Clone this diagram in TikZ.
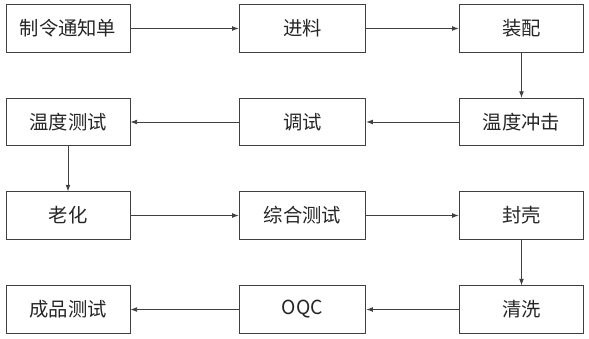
\documentclass[tikz,border=0pt]{standalone}
\usepackage{fontspec}
\newfontfamily\cjk{Noto Sans CJK SC}
\usetikzlibrary{arrows.meta}
\begin{document}
\begin{tikzpicture}[x=0.75pt,y=-0.75pt,
  box/.style={draw=black!75,line width=0.6pt,minimum width=93.5pt,minimum height=35.5pt,inner sep=0pt,font=\cjk\fontsize{14.5pt}{16pt}\selectfont,text=black!85},
  link/.style={draw=black!75,line width=0.6pt,-{Latex[length=5pt,width=3.6pt]}}]
\useasboundingbox (0,0) rectangle (589,339);
% columns centres 68, 302.5, 521.5 ; rows 28.5, 122, 215.5, 309.5
\node[box,minimum width=93pt] (a) at (68,28.5) {制令通知单};
\node[box,minimum width=95pt] (b) at (302.5,28.5) {进料};
\node[box] (c) at (521.5,28.5) {装配};
\node[box] (d) at (521.5,122) {温度冲击};
\node[box,minimum width=95pt] (e) at (302.5,122) {调试};
\node[box,minimum width=93pt] (f) at (68,122) {温度测试};
\node[box,minimum width=93pt] (g) at (68,215.5) {老化};
\node[box,minimum width=95pt] (h) at (302.5,215.5) {综合测试};
\node[box] (i) at (521.5,215.5) {封壳};
\node[box] (j) at (521.5,309.5) {清洗};
\node[box,minimum width=95pt] (k) at (302.5,309.5) {OQC};
\node[box,minimum width=93pt] (l) at (68,309.5) {成品测试};
\draw[link] (a) -- (b);
\draw[link] (b) -- (c);
\draw[link] (c) -- (d);
\draw[link] (d) -- (e);
\draw[link] (e) -- (f);
\draw[link] (f) -- (g);
\draw[link] (g) -- (h);
\draw[link] (h) -- (i);
\draw[link] (i) -- (j);
\draw[link] (j) -- (k);
\draw[link] (k) -- (l);
\end{tikzpicture}
\end{document}
